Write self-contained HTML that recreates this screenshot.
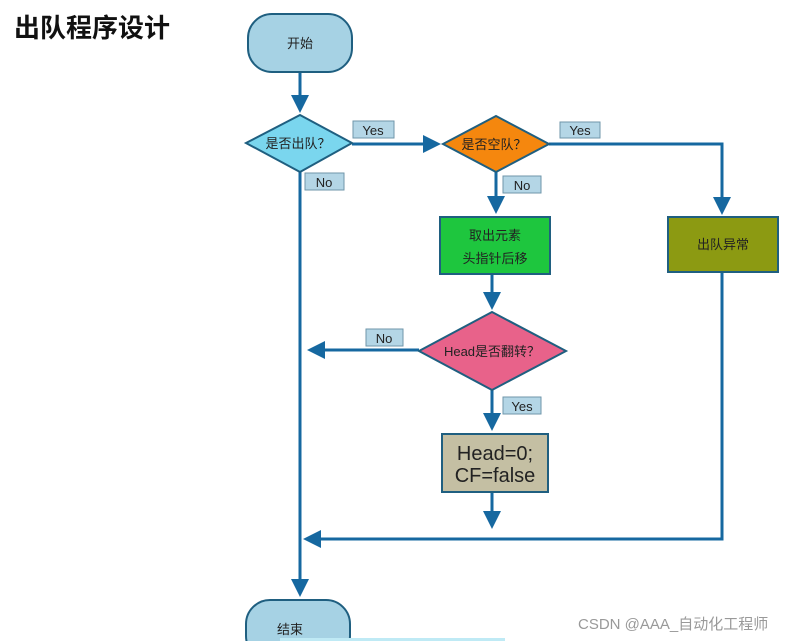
<!DOCTYPE html>
<html><head><meta charset="utf-8"><style>
html,body{margin:0;padding:0;background:#fff;width:789px;height:641px;overflow:hidden}
svg{display:block}
text{font-family:"Liberation Sans","Noto Sans CJK SC",sans-serif}
</style></head><body>
<svg width="789" height="641" viewBox="0 0 789 641">
<defs>
<marker id="a" markerWidth="6" markerHeight="6" refX="5" refY="3" orient="auto" markerUnits="strokeWidth"><path d="M0,0 L6,3 L0,6 z" fill="#1668a0"/></marker>
</defs>
<text x="14" y="37" font-size="26" font-weight="bold" fill="#111">出队程序设计</text>
<g stroke="#1668a0" stroke-width="3" fill="none">
<line x1="300" y1="72" x2="300" y2="110" marker-end="url(#a)"/>
<line x1="352" y1="144" x2="438" y2="144" marker-end="url(#a)"/>
<polyline points="549,144 722,144 722,212" marker-end="url(#a)"/>
<line x1="496" y1="172" x2="496" y2="211" marker-end="url(#a)"/>
<line x1="492" y1="274" x2="492" y2="307" marker-end="url(#a)"/>
<line x1="419" y1="350" x2="310" y2="350" marker-end="url(#a)"/>
<line x1="492" y1="390" x2="492" y2="428" marker-end="url(#a)"/>
<line x1="492" y1="492" x2="492" y2="526" marker-end="url(#a)"/>
<polyline points="722,272 722,539 306,539" marker-end="url(#a)"/>
<line x1="300" y1="172" x2="300" y2="594" marker-end="url(#a)"/>
</g>
<g stroke="#1f5f80" stroke-width="2">
<rect x="248" y="14" width="104" height="58" rx="24" fill="#a6d2e4"/>
<rect x="246" y="600" width="104" height="60" rx="24" fill="#a6d2e4"/>
<polygon points="246,143 300,115 352,143 300,172" fill="#7ad6ee"/>
<polygon points="443,144 496,116 549,144 496,172" fill="#f5870e"/>
<polygon points="419,351 492,312 566,351 492,390" fill="#e8628a"/>
<rect x="440" y="217" width="110" height="57" fill="#1ec63e"/>
<rect x="668" y="217" width="110" height="55" fill="#8c9a12"/>
<rect x="442" y="434" width="106" height="58" fill="#c4bfa3"/>
</g>
<g fill="#b4d6e6" stroke="#6f96aa" stroke-width="1">
<rect x="353" y="121" width="41" height="17"/>
<rect x="560" y="122" width="40" height="16"/>
<rect x="305" y="173" width="39" height="17"/>
<rect x="503" y="176" width="38" height="17"/>
<rect x="366" y="329" width="37" height="17"/>
<rect x="503" y="397" width="38" height="17"/>
</g>
<g font-size="13" fill="#222" text-anchor="middle">
<text x="373" y="135">Yes</text>
<text x="580" y="135">Yes</text>
<text x="324" y="187">No</text>
<text x="522" y="190">No</text>
<text x="384" y="343">No</text>
<text x="522" y="411">Yes</text>
</g>
<g font-size="13" fill="#222" text-anchor="middle">
<text x="300" y="48">开始</text>
<text x="298" y="148">是否出队？</text>
<text x="494" y="149">是否空队？</text>
<text x="492" y="356">Head是否翻转？</text>
<text x="495" y="240">取出元素</text>
<text x="495" y="263">头指针后移</text>
<text x="723" y="249">出队异常</text>
<text x="290" y="634">结束</text>
</g>
<g font-size="20" fill="#222" text-anchor="middle">
<text x="495" y="460">Head=0;</text>
<text x="495" y="482">CF=false</text>
</g>
<text x="578" y="629" font-size="15" fill="#999">CSDN @AAA_自动化工程师</text>
<rect x="280" y="638" width="225" height="3" fill="#bfeaf5"/>
</svg>
</body></html>
